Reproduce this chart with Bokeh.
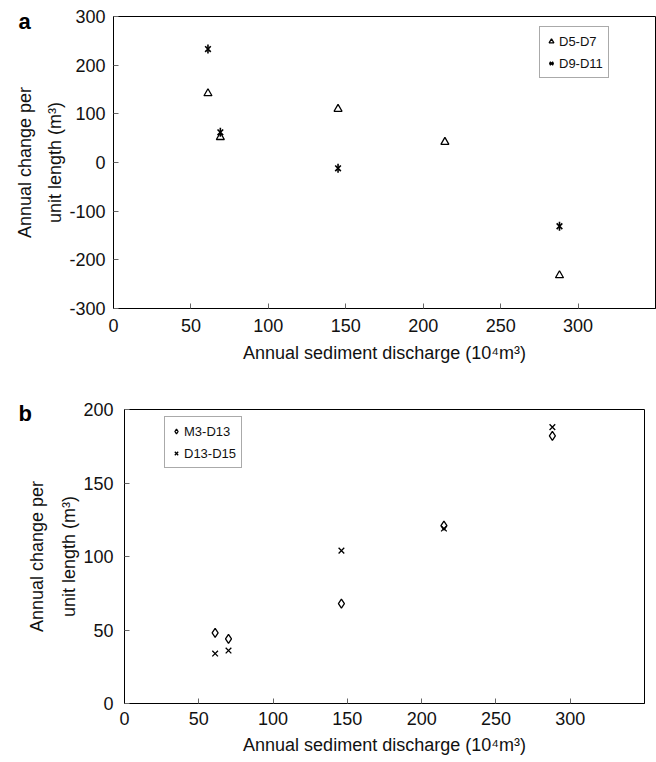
import math
from bokeh.plotting import figure
from bokeh.models import FixedTicker, Legend, LegendItem, Label
from bokeh.embed import file_html
from bokeh.resources import INLINE

# ---- data ----
a_d5_x = [61, 69, 145, 214, 288]
a_d5_y = [142, 52, 110, 42, -232]
a_d9_x = [61, 69, 145, 288]
a_d9_y = [233, 62, -12, -131]

b_m3_x = [61, 70, 146, 215, 288]
b_m3_y = [48, 44, 68, 121, 182]
b_d13_x = [61, 70, 146, 215, 288]
b_d13_y = [34, 36, 104, 119, 188]

x_ticks = [0, 50, 100, 150, 200, 250, 300]
a_y_ticks = [-300, -200, -100, 0, 100, 200, 300]
b_y_ticks = [0, 50, 100, 150, 200]

FONT = "Liberation Sans"
XLABEL = "Annual sediment discharge (10\u2074m\u00b3)"
YLABEL = "Annual change per\nunit length (m\u00b3)"


def style(p, yticks, ystand, ylabstand, xstand, xlabstand, lh):
    p.outline_line_color = "black"
    p.outline_line_width = 1
    p.grid.visible = False
    p.background_fill_color = "white"
    p.border_fill_color = "white"
    for ax in (p.xaxis[0], p.yaxis[0]):
        ax.axis_line_color = "black"
        ax.major_tick_line_color = "#666666"
        ax.major_tick_in = 5
        ax.major_tick_out = 0
        ax.minor_tick_line_color = None
        ax.major_label_text_font = FONT
        ax.major_label_text_font_size = "18px"
        ax.major_label_text_color = "#111111"
        ax.axis_label_text_font = FONT
        ax.axis_label_text_font_size = "18px"
        ax.axis_label_text_font_style = "normal"
        ax.axis_label_text_color = "#111111"
    p.xaxis[0].ticker = FixedTicker(ticks=x_ticks)
    p.yaxis[0].ticker = FixedTicker(ticks=yticks)
    p.xaxis[0].major_label_overrides = {t: str(t) for t in x_ticks}
    p.yaxis[0].major_label_overrides = {t: str(t) for t in yticks}
    p.xaxis[0].axis_label = XLABEL
    p.yaxis[0].axis_label = YLABEL
    p.yaxis[0].axis_label_text_line_height = lh
    p.xaxis[0].major_label_standoff = xstand
    p.xaxis[0].axis_label_standoff = xlabstand
    p.yaxis[0].major_label_standoff = ystand
    p.yaxis[0].axis_label_standoff = ylabstand


def legend(items, loc):
    return Legend(items=items, location=loc, label_text_font=FONT,
                  label_text_font_size="13px", label_text_color="#111111",
                  label_height=18, glyph_height=18, glyph_width=12,
                  label_standoff=2, spacing=4, padding=5, margin=0,
                  border_line_color="#555555", background_fill_alpha=1)


def panel_label(text, x, y):
    return Label(x=x, y=y, x_units="screen", y_units="screen", text=text,
                 text_font=FONT, text_font_size="22px", text_font_style="bold",
                 text_color="black", text_baseline="alphabetic")


# ---- panel a ----
pa = figure(width=656, height=372, x_range=(0, 350), y_range=(-300, 300),
            output_backend="svg", toolbar_location=None,
            min_border_left=113, min_border_right=1, min_border_top=16,
            min_border_bottom=64)
style(pa, a_y_ticks, 8, 1, 10, 8, 1.5)
ra1 = pa.scatter(a_d5_x, a_d5_y, marker="triangle", size=8, fill_color=None,
                 line_color="black", line_width=1.3)
ra2x = pa.scatter(a_d9_x, a_d9_y, marker="x", size=8,
                  line_color="black", line_width=1.6)
ra2d = pa.scatter(a_d9_x, a_d9_y, marker="dash", size=9, angle=math.pi / 2,
                  line_color="black", line_width=1.6)
pa.add_layout(legend([LegendItem(label="D5-D7", renderers=[ra1]),
                      LegendItem(label="D9-D11", renderers=[ra2x, ra2d])],
                     (426, 230)), "center")
pa.add_layout(panel_label("a", 18, 287), "left")

# ---- panel b ----
pb = figure(width=656, height=385, x_range=(0, 350), y_range=(0, 200),
            output_backend="svg", toolbar_location=None,
            min_border_left=124, min_border_right=12, min_border_top=37,
            min_border_bottom=53)
style(pb, b_y_ticks, 11, 1, 8, 7, 1.6)
rb1 = pb.scatter(b_m3_x, b_m3_y, marker="diamond", size=9, fill_color=None,
                 line_color="black", line_width=1.3)
rb2 = pb.scatter(b_d13_x, b_d13_y, marker="x", size=8,
                 line_color="black", line_width=1.3)
pb.add_layout(legend([LegendItem(label="M3-D13", renderers=[rb1]),
                      LegendItem(label="D13-D15", renderers=[rb2])],
                     (40, 235)), "center")
pb.add_layout(panel_label("b", 7, 290), "left")

open("out.html", "w").write(file_html([pa, pb], INLINE))
